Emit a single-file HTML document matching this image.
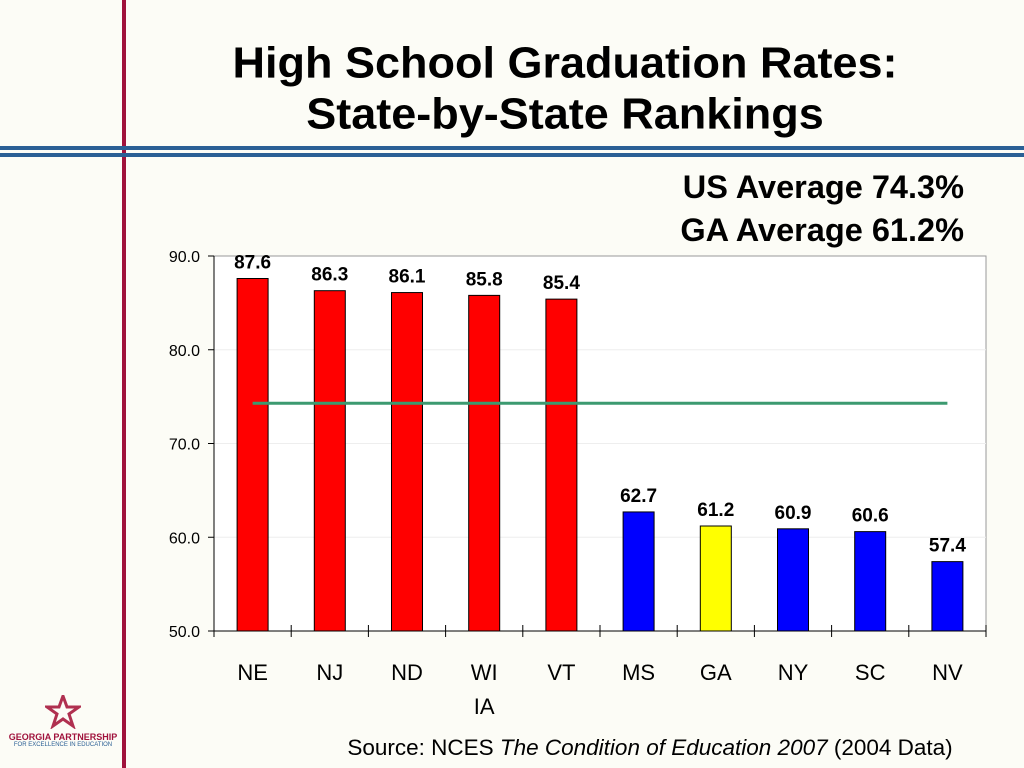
<!DOCTYPE html>
<html><head><meta charset="utf-8"><style>
body{margin:0;width:1024px;height:768px;background:#fcfcf6;font-family:"Liberation Sans",Arial,sans-serif;position:relative;overflow:hidden}
.abs{position:absolute}
</style></head><body>
<div class="abs" style="left:122px;top:0;width:4px;height:768px;background:#a0123c"></div>
<div class="abs" style="left:0;top:146px;width:1024px;height:4px;background:#2a5f95"></div>
<div class="abs" style="left:0;top:153px;width:1024px;height:4px;background:#2a5f95"></div>
<div class="abs" style="left:130px;width:870px;top:35px;text-align:center;font-weight:bold;font-size:45px;line-height:53px;color:#000;transform:scaleY(0.97)">High School Graduation Rates:<br>State-by-State Rankings</div>
<div class="abs" style="left:600px;width:364px;top:166px;text-align:right;font-weight:bold;font-size:32.5px;line-height:43px">US Average 74.3%<br>GA Average 61.2%</div>
<div class="abs" style="left:250px;width:800px;top:735px;text-align:center;font-size:22.5px">Source: NCES <i>The Condition of Education 2007</i> (2004 Data)</div>
<div class="abs" style="left:8px;top:695px;width:110px;text-align:center;color:#a0123c">
<svg width="36" height="34" viewBox="0 0 36 34"><polygon points="18,1 22,12 34,12 24,19 28,31 18,24 8,31 12,19 2,12 14,12" fill="none" stroke="#b03050" stroke-width="3"/></svg>
<div style="font-size:9px;font-weight:bold;color:#a0123c;margin-top:-2px">GEORGIA PARTNERSHIP</div>
<div style="font-size:6px;color:#2a5f95">FOR EXCELLENCE IN EDUCATION</div></div>
<svg class="abs" style="left:0;top:0" width="1024" height="768" id="chart"></svg>
<script>
const categories=["NE","NJ","ND","WI\nIA","VT","MS","GA","NY","SC","NV"];
const values=[87.6,86.3,86.1,85.8,85.4,62.7,61.2,60.9,60.6,57.4];
const colors=["#ff0000","#ff0000","#ff0000","#ff0000","#ff0000","#0000ff","#ffff00","#0000ff","#0000ff","#0000ff"];
const yTicks=[50,60,70,80,90];
const usAverage=74.3;
const NS="http://www.w3.org/2000/svg";
const svg=document.getElementById('chart');
const L=214,R=986,T=256,B=631,ymin=50,ymax=90;
const y=v=>B-(v-ymin)/(ymax-ymin)*(B-T);
const step=(R-L)/categories.length;
const xc=i=>L+step*(i+0.5);
function mk(t,a){const e=document.createElementNS(NS,t);for(const k in a)e.setAttribute(k,a[k]);svg.appendChild(e);return e;}
let e=mk('rect',{x:L,y:T,width:R-L,height:B-T,fill:'#fff',stroke:'#999'});


yTicks.forEach(t=>{
 if(t>ymin&&t<ymax){let g=mk('line',{x1:L,x2:R,y1:y(t),y2:y(t),stroke:'#eee'});
 
 }
 let k=mk('line',{x1:L-6,x2:L,y1:y(t),y2:y(t),stroke:'#000'});
 
 
 let tx=mk('text',{x:L-14,y:y(t)+6,'text-anchor':'end','font-size':16,'font-family':'Liberation Sans, sans-serif'});
 tx.textContent=t.toFixed(1);
 
 
});
e=mk('line',{x1:L,x2:L,y1:T,y2:B,stroke:'#000'});


e=mk('line',{x1:L,x2:R,y1:B,y2:B,stroke:'#000'});


for(let i=0;i<=categories.length;i++){
 let k=mk('line',{x1:L+step*i,x2:L+step*i,y1:B-6,y2:B+6,stroke:'#000'});
 
 
}
categories.forEach((c,i)=>{
 const v=values[i],bw=31;
 let r=mk('rect',{x:xc(i)-bw/2,y:y(v),width:bw,height:B-y(v),fill:colors[i],stroke:'#000','stroke-width':1});
 
 
 let t=mk('text',{x:xc(i),y:y(v)-10,'text-anchor':'middle','font-size':19,'font-weight':'bold','font-family':'Liberation Sans, sans-serif'});
 t.textContent=v.toFixed(1);
 
 
 c.split('\n').forEach((ln,j)=>{
  let l=mk('text',{x:xc(i),y:680+j*34,'text-anchor':'middle','font-size':22,'font-family':'Liberation Sans, sans-serif'});
  l.textContent=ln;
  
  
 });
});
e=mk('line',{x1:xc(0),x2:xc(categories.length-1),y1:y(usAverage),y2:y(usAverage),stroke:'#3c9a70','stroke-width':3});


</script>
</body></html>
